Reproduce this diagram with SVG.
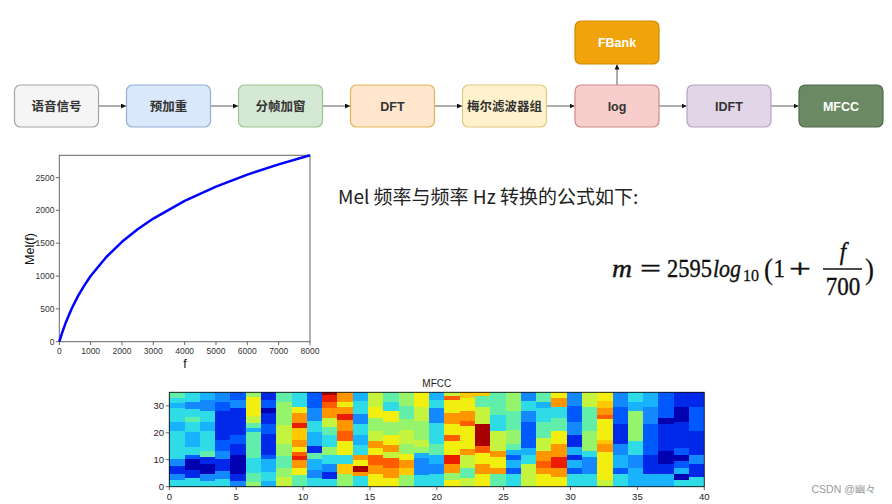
<svg xmlns="http://www.w3.org/2000/svg" width="892" height="504" viewBox="0 0 892 504">
<style>
.box{stroke-width:1.2}
.lbl{font-family:"Liberation Sans","Noto Sans CJK SC",sans-serif;font-size:12.5px;font-weight:600;fill:#333;text-anchor:middle}
.wt{fill:#fff}
.conn{stroke:#777;stroke-width:1.2;fill:none}
.tick{font-family:"Liberation Sans","DejaVu Sans",sans-serif;font-size:8.5px;fill:#333}
.tk{stroke:#444;stroke-width:0.8}
.ht{font-family:"Liberation Sans","DejaVu Sans",sans-serif;font-size:9.5px;fill:#222}
.mx{font-family:"Liberation Serif","DejaVu Serif",serif;font-size:23px;fill:#111;stroke:#111;stroke-width:0.35}
.it{font-style:italic}
.DR{fill:#a80000}.R{fill:#ec1c00}.RO{fill:#ff5c00}.O{fill:#ff9600}.YO{fill:#ffc800}.Y{fill:#f2ee10}.LY{fill:#c4f43e}.G{fill:#96f46c}.CG{fill:#60eeaa}.C{fill:#2edbe6}.SB{fill:#18b2ff}.LB{fill:#1488ff}.MB{fill:#0058ff}.B{fill:#0028e8}.DB{fill:#0000b0}
</style>
<defs>
<marker id="ah" markerWidth="6" markerHeight="6" refX="5" refY="2.5" orient="auto" markerUnits="userSpaceOnUse">
<path d="M0,0 L5,2.5 L0,5 Z" fill="#111"/>
</marker>
</defs>
<rect width="892" height="504" fill="#fff"/>

<g id="connectors">
<line class="conn" x1="98.5" y1="106" x2="126" y2="106" marker-end="url(#ah)"/>
<line class="conn" x1="210.5" y1="106" x2="238" y2="106" marker-end="url(#ah)"/>
<line class="conn" x1="322.5" y1="106" x2="350" y2="106" marker-end="url(#ah)"/>
<line class="conn" x1="434.5" y1="106" x2="462" y2="106" marker-end="url(#ah)"/>
<line class="conn" x1="546.5" y1="106" x2="574.5" y2="106" marker-end="url(#ah)"/>
<line class="conn" x1="659" y1="106" x2="686.5" y2="106" marker-end="url(#ah)"/>
<line class="conn" x1="771" y1="106" x2="798.5" y2="106" marker-end="url(#ah)"/>
<line class="conn" x1="617" y1="85" x2="617" y2="64.5" marker-end="url(#ah)"/>
</g>

<g id="n-signal"><rect class="box" x="14.5" y="85" width="84" height="42" rx="6" fill="#f5f5f5" stroke="#a6a6a6"/><text class="lbl" x="56.5" y="110.5">语音信号</text></g>
<g id="n-preemph"><rect class="box" x="126.5" y="85" width="84" height="42" rx="6" fill="#dae8fc" stroke="#93aed3"/><text class="lbl" x="168.5" y="110.5">预加重</text></g>
<g id="n-frame"><rect class="box" x="238.5" y="85" width="84" height="42" rx="6" fill="#d5e8d4" stroke="#9cc48f"/><text class="lbl" x="280.5" y="110.5">分帧加窗</text></g>
<g id="n-dft"><rect class="box" x="350.5" y="85" width="84" height="42" rx="6" fill="#ffe6cc" stroke="#e2b356"/><text class="lbl" x="392.5" y="110.5">DFT</text></g>
<g id="n-melfilter"><rect class="box" x="462.5" y="85" width="84" height="42" rx="6" fill="#fff2cc" stroke="#dfca82"/><text class="lbl" x="504.5" y="110.5">梅尔滤波器组</text></g>
<g id="n-log"><rect class="box" x="575" y="85" width="84" height="42" rx="6" fill="#f8cecc" stroke="#d08a86"/><text class="lbl" x="617" y="110.5">log</text></g>
<g id="n-fbank"><rect class="box" x="575" y="21" width="84" height="43" rx="6" fill="#f0a30a" stroke="#d08a00"/><text class="lbl wt" x="617" y="47">FBank</text></g>
<g id="n-idft"><rect class="box" x="687" y="85" width="84" height="42" rx="6" fill="#e1d5e7" stroke="#b7a2c6"/><text class="lbl" x="729" y="110.5">IDFT</text></g>
<g id="n-mfcc"><rect class="box" x="799" y="85" width="84" height="42" rx="6" fill="#6b8a63" stroke="#4f6c48"/><text class="lbl wt" x="841" y="110.5">MFCC</text></g>

<g id="mel-plot">
<rect x="59.3" y="155.3" width="250.7" height="186.4" fill="none" stroke="#666" stroke-width="1"/>
<polyline fill="none" stroke="#0000ff" stroke-width="2.5" stroke-linejoin="round" points="59.3,341.7 62.43,331.82 65.57,323.11 71.84,308.27 78.10,295.91 84.37,285.33 90.64,276.07 106.31,257.00 121.98,241.85 137.65,229.29 153.31,218.55 184.65,200.86 215.99,186.58 247.33,174.63 278.67,164.34 310,155.31"/>
<g class="tk">
<line x1="55.8" y1="341.7" x2="59.3" y2="341.7"/><line x1="55.8" y1="308.9" x2="59.3" y2="308.9"/><line x1="55.8" y1="276.1" x2="59.3" y2="276.1"/><line x1="55.8" y1="243.2" x2="59.3" y2="243.2"/><line x1="55.8" y1="210.4" x2="59.3" y2="210.4"/><line x1="55.8" y1="177.6" x2="59.3" y2="177.6"/>
<line x1="59.3" y1="341.7" x2="59.3" y2="345.2"/><line x1="90.64" y1="341.7" x2="90.64" y2="345.2"/><line x1="121.98" y1="341.7" x2="121.98" y2="345.2"/><line x1="153.31" y1="341.7" x2="153.31" y2="345.2"/><line x1="184.65" y1="341.7" x2="184.65" y2="345.2"/><line x1="215.99" y1="341.7" x2="215.99" y2="345.2"/><line x1="247.33" y1="341.7" x2="247.33" y2="345.2"/><line x1="278.67" y1="341.7" x2="278.67" y2="345.2"/><line x1="310" y1="341.7" x2="310" y2="345.2"/>
</g>
<g class="tick" text-anchor="end">
<text x="54.5" y="344.6">0</text><text x="54.5" y="311.8">500</text><text x="54.5" y="279">1000</text><text x="54.5" y="246.1">1500</text><text x="54.5" y="213.3">2000</text><text x="54.5" y="180.5">2500</text>
</g>
<g class="tick" text-anchor="middle">
<text x="59.3" y="353.5">0</text><text x="90.64" y="353.5">1000</text><text x="121.98" y="353.5">2000</text><text x="153.31" y="353.5">3000</text><text x="184.65" y="353.5">4000</text><text x="215.99" y="353.5">5000</text><text x="247.33" y="353.5">6000</text><text x="278.67" y="353.5">7000</text><text x="310" y="353.5">8000</text>
</g>
<text x="0" y="0" transform="translate(33.5 249) rotate(-90)" text-anchor="middle" font-family="Liberation Sans, DejaVu Sans, sans-serif" font-size="12.5" fill="#111">Mel(f)</text>
<text x="185" y="367.5" text-anchor="middle" font-family="Liberation Sans, DejaVu Sans, sans-serif" font-size="12.5" fill="#111">f</text>
</g>

<g id="formula-text">
<text x="338" y="204" font-family="Noto Sans CJK SC, Liberation Sans, sans-serif" font-size="19" fill="#222">Mel 频率与频率 Hz 转换的公式如下:</text>
</g>

<g id="formula">
<text class="mx it" transform="translate(612 276.7) scale(1 1.14)" textLength="20" lengthAdjust="spacingAndGlyphs">m</text>
<text class="mx" transform="translate(640 276.7) scale(1 1.14)" textLength="21" lengthAdjust="spacingAndGlyphs">=</text>
<text class="mx" transform="translate(667 276.7) scale(1 1.14)" textLength="45" lengthAdjust="spacingAndGlyphs">2595</text>
<text class="mx it" transform="translate(713 276.7) scale(1 1.14)" textLength="28" lengthAdjust="spacingAndGlyphs">log</text>
<text class="mx" style="font-size:15px;stroke-width:0.25" transform="translate(743 280.5) scale(1 1.12)" textLength="16" lengthAdjust="spacingAndGlyphs">10</text>
<text class="mx" style="font-size:27px;stroke-width:0.2" transform="translate(764 279) scale(1 1.12)">(</text>
<text class="mx" transform="translate(773.5 276.7) scale(1 1.14)">1</text>
<text class="mx" transform="translate(789 276.7) scale(1 1.14)" textLength="22" lengthAdjust="spacingAndGlyphs">+</text>
<text class="mx it" text-anchor="middle" transform="translate(843 260) scale(1 1.14)">f</text>
<line x1="823" y1="269" x2="862" y2="269" stroke="#111" stroke-width="1.3"/>
<text class="mx" text-anchor="middle" transform="translate(843 294.5) scale(1 1.14)">700</text>
<text class="mx" style="font-size:27px;stroke-width:0.2" transform="translate(865 279) scale(1 1.12)">)</text>
</g>

<g id="mfcc-plot">
<text x="436.8" y="386.7" text-anchor="middle" font-family="Liberation Sans, DejaVu Sans, sans-serif" font-size="10" fill="#222">MFCC</text>
<g id="heatmap" transform="translate(169.3 392.3) scale(15.2857 0.944)" shape-rendering="crispEdges">
<rect x="0" y="0" width="1" height="6" class="CG"/><rect x="0" y="6" width="1" height="5" class="C"/><rect x="0" y="11" width="1" height="6" class="SB"/><rect x="0" y="17" width="1" height="14" class="C"/><rect x="0" y="31" width="1" height="10" class="SB"/><rect x="0" y="41" width="1" height="30" class="C"/><rect x="0" y="71" width="1" height="7" class="LB"/><rect x="0" y="78" width="1" height="9" class="B"/><rect x="0" y="87" width="1" height="6" class="LB"/><rect x="0" y="93" width="1" height="7" class="C"/>
<rect x="1" y="0" width="1" height="10" class="C"/><rect x="1" y="10" width="1" height="8" class="LB"/><rect x="1" y="18" width="1" height="8" class="C"/><rect x="1" y="26" width="1" height="5" class="CG"/><rect x="1" y="31" width="1" height="11" class="C"/><rect x="1" y="42" width="1" height="16" class="SB"/><rect x="1" y="58" width="1" height="8" class="C"/><rect x="1" y="66" width="1" height="5" class="MB"/><rect x="1" y="71" width="1" height="11" class="DB"/><rect x="1" y="82" width="1" height="9" class="B"/><rect x="1" y="91" width="1" height="9" class="C"/>
<rect x="2" y="0" width="1" height="8" class="SB"/><rect x="2" y="8" width="1" height="12" class="LB"/><rect x="2" y="20" width="1" height="11" class="C"/><rect x="2" y="31" width="1" height="10" class="SB"/><rect x="2" y="41" width="1" height="21" class="C"/><rect x="2" y="62" width="1" height="7" class="CG"/><rect x="2" y="69" width="1" height="7" class="B"/><rect x="2" y="76" width="1" height="11" class="DB"/><rect x="2" y="87" width="1" height="7" class="LB"/><rect x="2" y="94" width="1" height="6" class="C"/>
<rect x="3" y="0" width="1" height="10" class="LB"/><rect x="3" y="10" width="1" height="10" class="MB"/><rect x="3" y="20" width="1" height="30" class="B"/><rect x="3" y="50" width="1" height="12" class="MB"/><rect x="3" y="62" width="1" height="9" class="LB"/><rect x="3" y="71" width="1" height="12" class="B"/><rect x="3" y="83" width="1" height="9" class="LB"/><rect x="3" y="92" width="1" height="8" class="C"/>
<rect x="4" y="0" width="1" height="8" class="MB"/><rect x="4" y="8" width="1" height="9" class="LB"/><rect x="4" y="17" width="1" height="28" class="B"/><rect x="4" y="45" width="1" height="10" class="MB"/><rect x="4" y="55" width="1" height="11" class="B"/><rect x="4" y="66" width="1" height="21" class="DB"/><rect x="4" y="87" width="1" height="7" class="B"/><rect x="4" y="94" width="1" height="6" class="LB"/>
<rect x="5" y="0" width="1" height="5" class="G"/><rect x="5" y="5" width="1" height="20" class="Y"/><rect x="5" y="25" width="1" height="8" class="LY"/><rect x="5" y="33" width="1" height="5" class="CG"/><rect x="5" y="38" width="1" height="4" class="SB"/><rect x="5" y="42" width="1" height="28" class="CG"/><rect x="5" y="70" width="1" height="15" class="C"/><rect x="5" y="85" width="1" height="10" class="CG"/><rect x="5" y="95" width="1" height="5" class="G"/>
<rect x="6" y="0" width="1" height="8" class="B"/><rect x="6" y="8" width="1" height="9" class="MB"/><rect x="6" y="17" width="1" height="5" class="DB"/><rect x="6" y="22" width="1" height="12" class="B"/><rect x="6" y="34" width="1" height="10" class="MB"/><rect x="6" y="44" width="1" height="22" class="B"/><rect x="6" y="66" width="1" height="5" class="MB"/><rect x="6" y="71" width="1" height="13" class="SB"/><rect x="6" y="84" width="1" height="10" class="C"/><rect x="6" y="94" width="1" height="6" class="SB"/>
<rect x="7" y="0" width="1" height="10" class="CG"/><rect x="7" y="10" width="1" height="25" class="G"/><rect x="7" y="35" width="1" height="20" class="LY"/><rect x="7" y="55" width="1" height="13" class="G"/><rect x="7" y="68" width="1" height="12" class="CG"/><rect x="7" y="80" width="1" height="10" class="G"/><rect x="7" y="90" width="1" height="10" class="LY"/>
<rect x="8" y="0" width="1" height="16" class="C"/><rect x="8" y="16" width="1" height="6" class="Y"/><rect x="8" y="22" width="1" height="11" class="O"/><rect x="8" y="33" width="1" height="5" class="R"/><rect x="8" y="38" width="1" height="12" class="YO"/><rect x="8" y="50" width="1" height="8" class="O"/><rect x="8" y="58" width="1" height="5" class="Y"/><rect x="8" y="63" width="1" height="5" class="RO"/><rect x="8" y="68" width="1" height="4" class="R"/><rect x="8" y="72" width="1" height="8" class="O"/><rect x="8" y="80" width="1" height="8" class="Y"/><rect x="8" y="88" width="1" height="12" class="CG"/>
<rect x="9" y="0" width="1" height="17" class="MB"/><rect x="9" y="17" width="1" height="13" class="LB"/><rect x="9" y="30" width="1" height="12" class="C"/><rect x="9" y="42" width="1" height="15" class="SB"/><rect x="9" y="57" width="1" height="7" class="B"/><rect x="9" y="64" width="1" height="7" class="CG"/><rect x="9" y="71" width="1" height="11" class="SB"/><rect x="9" y="82" width="1" height="9" class="LB"/><rect x="9" y="91" width="1" height="9" class="C"/>
<rect x="10" y="0" width="1" height="3" class="DR"/><rect x="10" y="3" width="1" height="7" class="R"/><rect x="10" y="10" width="1" height="7" class="RO"/><rect x="10" y="17" width="1" height="10" class="O"/><rect x="10" y="27" width="1" height="10" class="LY"/><rect x="10" y="37" width="1" height="8" class="CG"/><rect x="10" y="45" width="1" height="13" class="C"/><rect x="10" y="58" width="1" height="8" class="G"/><rect x="10" y="66" width="1" height="10" class="C"/><rect x="10" y="76" width="1" height="8" class="LB"/><rect x="10" y="84" width="1" height="8" class="B"/><rect x="10" y="92" width="1" height="8" class="C"/>
<rect x="11" y="0" width="1" height="10" class="O"/><rect x="11" y="10" width="1" height="6" class="Y"/><rect x="11" y="16" width="1" height="7" class="O"/><rect x="11" y="23" width="1" height="6" class="R"/><rect x="11" y="29" width="1" height="12" class="O"/><rect x="11" y="41" width="1" height="11" class="RO"/><rect x="11" y="52" width="1" height="14" class="Y"/><rect x="11" y="66" width="1" height="10" class="C"/><rect x="11" y="76" width="1" height="11" class="YO"/><rect x="11" y="87" width="1" height="13" class="G"/>
<rect x="12" y="0" width="1" height="9" class="SB"/><rect x="12" y="9" width="1" height="14" class="C"/><rect x="12" y="23" width="1" height="11" class="LB"/><rect x="12" y="34" width="1" height="11" class="C"/><rect x="12" y="45" width="1" height="11" class="SB"/><rect x="12" y="56" width="1" height="10" class="C"/><rect x="12" y="66" width="1" height="6" class="O"/><rect x="12" y="72" width="1" height="6" class="Y"/><rect x="12" y="78" width="1" height="6" class="DR"/><rect x="12" y="84" width="1" height="5" class="O"/><rect x="12" y="89" width="1" height="11" class="C"/>
<rect x="13" y="0" width="1" height="16" class="LY"/><rect x="13" y="16" width="1" height="11" class="Y"/><rect x="13" y="27" width="1" height="14" class="G"/><rect x="13" y="41" width="1" height="11" class="LY"/><rect x="13" y="52" width="1" height="7" class="O"/><rect x="13" y="59" width="1" height="7" class="Y"/><rect x="13" y="66" width="1" height="11" class="RO"/><rect x="13" y="77" width="1" height="10" class="O"/><rect x="13" y="87" width="1" height="13" class="Y"/>
<rect x="14" y="0" width="1" height="10" class="CG"/><rect x="14" y="10" width="1" height="10" class="C"/><rect x="14" y="20" width="1" height="11" class="Y"/><rect x="14" y="31" width="1" height="14" class="G"/><rect x="14" y="45" width="1" height="11" class="Y"/><rect x="14" y="56" width="1" height="7" class="O"/><rect x="14" y="63" width="1" height="7" class="LY"/><rect x="14" y="70" width="1" height="10" class="RO"/><rect x="14" y="80" width="1" height="11" class="O"/><rect x="14" y="91" width="1" height="9" class="Y"/>
<rect x="15" y="0" width="1" height="14" class="G"/><rect x="15" y="14" width="1" height="14" class="CG"/><rect x="15" y="28" width="1" height="12" class="G"/><rect x="15" y="40" width="1" height="15" class="LY"/><rect x="15" y="55" width="1" height="10" class="G"/><rect x="15" y="65" width="1" height="7" class="Y"/><rect x="15" y="72" width="1" height="8" class="O"/><rect x="15" y="80" width="1" height="8" class="YO"/><rect x="15" y="88" width="1" height="12" class="G"/>
<rect x="16" y="0" width="1" height="16" class="Y"/><rect x="16" y="16" width="1" height="14" class="LY"/><rect x="16" y="30" width="1" height="20" class="G"/><rect x="16" y="50" width="1" height="8" class="LY"/><rect x="16" y="58" width="1" height="6" class="G"/><rect x="16" y="64" width="1" height="6" class="SB"/><rect x="16" y="70" width="1" height="18" class="LB"/><rect x="16" y="88" width="1" height="12" class="C"/>
<rect x="17" y="0" width="1" height="8" class="SB"/><rect x="17" y="8" width="1" height="9" class="C"/><rect x="17" y="17" width="1" height="16" class="LB"/><rect x="17" y="33" width="1" height="22" class="C"/><rect x="17" y="55" width="1" height="11" class="CG"/><rect x="17" y="66" width="1" height="10" class="SB"/><rect x="17" y="76" width="1" height="11" class="LB"/><rect x="17" y="87" width="1" height="13" class="C"/>
<rect x="18" y="0" width="1" height="4" class="LY"/><rect x="18" y="4" width="1" height="4" class="RO"/><rect x="18" y="8" width="1" height="14" class="Y"/><rect x="18" y="22" width="1" height="12" class="O"/><rect x="18" y="34" width="1" height="11" class="Y"/><rect x="18" y="45" width="1" height="7" class="RO"/><rect x="18" y="52" width="1" height="14" class="Y"/><rect x="18" y="66" width="1" height="10" class="R"/><rect x="18" y="76" width="1" height="10" class="O"/><rect x="18" y="86" width="1" height="7" class="G"/><rect x="18" y="93" width="1" height="7" class="Y"/>
<rect x="19" y="0" width="1" height="6" class="YO"/><rect x="19" y="6" width="1" height="14" class="Y"/><rect x="19" y="20" width="1" height="10" class="O"/><rect x="19" y="30" width="1" height="6" class="RO"/><rect x="19" y="36" width="1" height="24" class="Y"/><rect x="19" y="60" width="1" height="6" class="O"/><rect x="19" y="66" width="1" height="14" class="LY"/><rect x="19" y="80" width="1" height="11" class="CG"/><rect x="19" y="91" width="1" height="9" class="LY"/>
<rect x="20" y="0" width="1" height="4" class="YO"/><rect x="20" y="4" width="1" height="12" class="CG"/><rect x="20" y="16" width="1" height="18" class="LY"/><rect x="20" y="34" width="1" height="23" class="DR"/><rect x="20" y="57" width="1" height="7" class="RO"/><rect x="20" y="64" width="1" height="12" class="Y"/><rect x="20" y="76" width="1" height="11" class="O"/><rect x="20" y="87" width="1" height="13" class="Y"/>
<rect x="21" y="0" width="1" height="24" class="CG"/><rect x="21" y="24" width="1" height="17" class="C"/><rect x="21" y="41" width="1" height="21" class="LY"/><rect x="21" y="62" width="1" height="7" class="O"/><rect x="21" y="69" width="1" height="11" class="Y"/><rect x="21" y="80" width="1" height="7" class="O"/><rect x="21" y="87" width="1" height="13" class="CG"/>
<rect x="22" y="0" width="1" height="20" class="G"/><rect x="22" y="20" width="1" height="20" class="CG"/><rect x="22" y="40" width="1" height="15" class="G"/><rect x="22" y="55" width="1" height="6" class="CG"/><rect x="22" y="61" width="1" height="5" class="SB"/><rect x="22" y="66" width="1" height="6" class="MB"/><rect x="22" y="72" width="1" height="8" class="SB"/><rect x="22" y="80" width="1" height="7" class="MB"/><rect x="22" y="87" width="1" height="13" class="C"/>
<rect x="23" y="0" width="1" height="9" class="LB"/><rect x="23" y="9" width="1" height="11" class="C"/><rect x="23" y="20" width="1" height="11" class="LB"/><rect x="23" y="31" width="1" height="28" class="MB"/><rect x="23" y="59" width="1" height="7" class="SB"/><rect x="23" y="66" width="1" height="10" class="C"/><rect x="23" y="76" width="1" height="24" class="LY"/>
<rect x="24" y="0" width="1" height="10" class="CG"/><rect x="24" y="10" width="1" height="7" class="SB"/><rect x="24" y="17" width="1" height="14" class="C"/><rect x="24" y="31" width="1" height="17" class="CG"/><rect x="24" y="48" width="1" height="14" class="LY"/><rect x="24" y="62" width="1" height="11" class="O"/><rect x="24" y="73" width="1" height="7" class="RO"/><rect x="24" y="80" width="1" height="7" class="O"/><rect x="24" y="87" width="1" height="13" class="Y"/>
<rect x="25" y="0" width="1" height="6" class="Y"/><rect x="25" y="6" width="1" height="10" class="O"/><rect x="25" y="16" width="1" height="11" class="C"/><rect x="25" y="27" width="1" height="14" class="CG"/><rect x="25" y="41" width="1" height="14" class="Y"/><rect x="25" y="55" width="1" height="14" class="O"/><rect x="25" y="69" width="1" height="11" class="R"/><rect x="25" y="80" width="1" height="10" class="O"/><rect x="25" y="90" width="1" height="10" class="Y"/>
<rect x="26" y="0" width="1" height="14" class="LB"/><rect x="26" y="14" width="1" height="17" class="MB"/><rect x="26" y="31" width="1" height="14" class="LB"/><rect x="26" y="45" width="1" height="13" class="B"/><rect x="26" y="58" width="1" height="8" class="SB"/><rect x="26" y="66" width="1" height="6" class="B"/><rect x="26" y="72" width="1" height="8" class="SB"/><rect x="26" y="80" width="1" height="7" class="MB"/><rect x="26" y="87" width="1" height="13" class="C"/>
<rect x="27" y="0" width="1" height="16" class="LY"/><rect x="27" y="16" width="1" height="25" class="CG"/><rect x="27" y="41" width="1" height="21" class="G"/><rect x="27" y="62" width="1" height="7" class="C"/><rect x="27" y="69" width="1" height="18" class="LB"/><rect x="27" y="87" width="1" height="13" class="C"/>
<rect x="28" y="0" width="1" height="9" class="Y"/><rect x="28" y="9" width="1" height="8" class="YO"/><rect x="28" y="17" width="1" height="7" class="O"/><rect x="28" y="24" width="1" height="4" class="RO"/><rect x="28" y="28" width="1" height="22" class="Y"/><rect x="28" y="50" width="1" height="5" class="YO"/><rect x="28" y="55" width="1" height="8" class="O"/><rect x="28" y="63" width="1" height="30" class="Y"/><rect x="28" y="93" width="1" height="7" class="LY"/>
<rect x="29" y="0" width="1" height="16" class="LB"/><rect x="29" y="16" width="1" height="18" class="MB"/><rect x="29" y="34" width="1" height="21" class="B"/><rect x="29" y="55" width="1" height="11" class="LB"/><rect x="29" y="66" width="1" height="14" class="SB"/><rect x="29" y="80" width="1" height="7" class="MB"/><rect x="29" y="87" width="1" height="13" class="C"/>
<rect x="30" y="0" width="1" height="10" class="C"/><rect x="30" y="10" width="1" height="10" class="SB"/><rect x="30" y="20" width="1" height="32" class="G"/><rect x="30" y="52" width="1" height="14" class="C"/><rect x="30" y="66" width="1" height="14" class="LB"/><rect x="30" y="80" width="1" height="20" class="SB"/>
<rect x="31" y="0" width="1" height="16" class="SB"/><rect x="31" y="16" width="1" height="18" class="LB"/><rect x="31" y="34" width="1" height="32" class="MB"/><rect x="31" y="66" width="1" height="21" class="B"/><rect x="31" y="87" width="1" height="13" class="SB"/>
<rect x="32" y="0" width="1" height="27" class="MB"/><rect x="32" y="27" width="1" height="7" class="DB"/><rect x="32" y="34" width="1" height="28" class="B"/><rect x="32" y="62" width="1" height="14" class="DB"/><rect x="32" y="76" width="1" height="11" class="B"/><rect x="32" y="87" width="1" height="13" class="SB"/>
<rect x="33" y="0" width="1" height="16" class="B"/><rect x="33" y="16" width="1" height="15" class="DB"/><rect x="33" y="31" width="1" height="28" class="B"/><rect x="33" y="59" width="1" height="7" class="MB"/><rect x="33" y="66" width="1" height="7" class="DB"/><rect x="33" y="73" width="1" height="7" class="MB"/><rect x="33" y="80" width="1" height="7" class="SB"/><rect x="33" y="87" width="1" height="6" class="DB"/><rect x="33" y="93" width="1" height="7" class="C"/>
<rect x="34" y="0" width="1" height="16" class="B"/><rect x="34" y="16" width="1" height="25" class="MB"/><rect x="34" y="41" width="1" height="25" class="B"/><rect x="34" y="66" width="1" height="10" class="LB"/><rect x="34" y="76" width="1" height="14" class="B"/><rect x="34" y="90" width="1" height="10" class="C"/>
</g>
<rect x="169.3" y="392.3" width="535" height="94.4" fill="none" stroke="#111" stroke-width="0.9"/>
<g class="tk">
<line x1="165.8" y1="486.7" x2="169.3" y2="486.7"/><line x1="165.8" y1="459.7" x2="169.3" y2="459.7"/><line x1="165.8" y1="432.8" x2="169.3" y2="432.8"/><line x1="165.8" y1="405.8" x2="169.3" y2="405.8"/>
<line x1="169.3" y1="486.7" x2="169.3" y2="490.2"/><line x1="236.2" y1="486.7" x2="236.2" y2="490.2"/><line x1="303" y1="486.7" x2="303" y2="490.2"/><line x1="369.9" y1="486.7" x2="369.9" y2="490.2"/><line x1="436.8" y1="486.7" x2="436.8" y2="490.2"/><line x1="503.6" y1="486.7" x2="503.6" y2="490.2"/><line x1="570.5" y1="486.7" x2="570.5" y2="490.2"/><line x1="637.4" y1="486.7" x2="637.4" y2="490.2"/><line x1="704.3" y1="486.7" x2="704.3" y2="490.2"/>
</g>
<g class="ht" text-anchor="end">
<text x="164" y="490">0</text><text x="164" y="463">10</text><text x="164" y="436.1">20</text><text x="164" y="409.1">30</text>
</g>
<g class="ht" text-anchor="middle">
<text x="169.3" y="500">0</text><text x="236.2" y="500">5</text><text x="303" y="500">10</text><text x="369.9" y="500">15</text><text x="436.8" y="500">20</text><text x="503.6" y="500">25</text><text x="570.5" y="500">30</text><text x="637.4" y="500">35</text><text x="704.3" y="500">40</text>
</g>
</g>

<text x="811.5" y="493" font-family="Liberation Sans, Noto Sans CJK SC, sans-serif" font-size="10.5" fill="#9a9a9a">CSDN @幽々</text>
</svg>
